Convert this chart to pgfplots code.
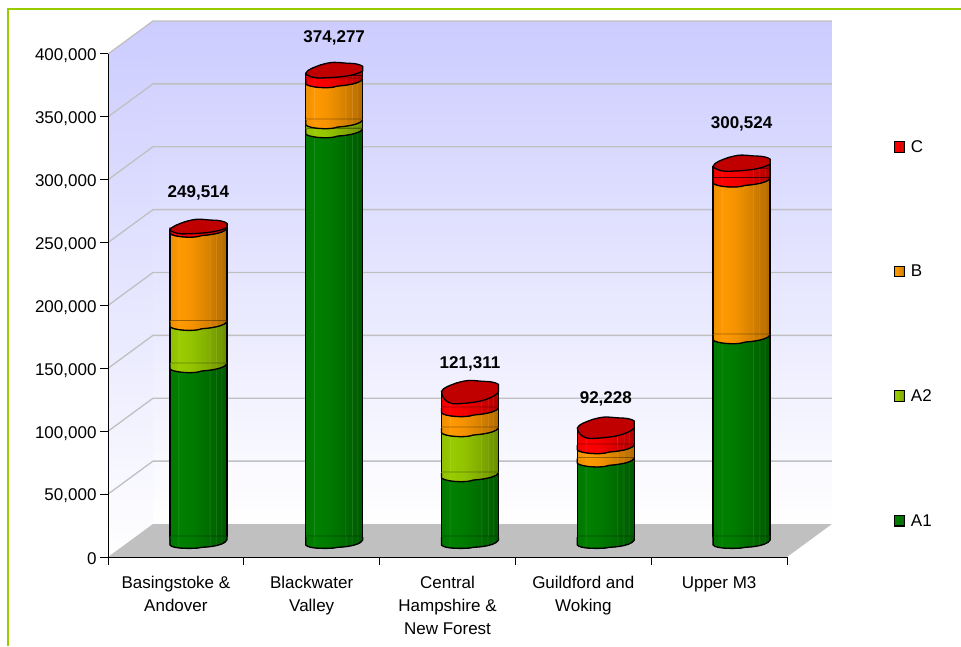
\documentclass[border=0pt]{standalone}
\usepackage{fontspec}
\setmainfont{Liberation Sans}
\usepackage{pgfplots}
\pgfplotsset{compat=1.18}
\definecolor{cAa}{HTML}{008000}
\definecolor{cAb}{HTML}{99CC00}
\definecolor{cB}{HTML}{FF9900}
\definecolor{cC}{HTML}{FF0000}
\definecolor{capred}{HTML}{C00000}
\definecolor{wall}{HTML}{CCCCFF}
\definecolor{gridg}{HTML}{C0C0C0}
\definecolor{frameg}{HTML}{99CC00}
% stepped cylinder shading
\newcommand\declcyl[2]{%
\pgfdeclarehorizontalshading{#1}{100bp}{%
color(0bp)=(#2!94!black);color(25bp)=(#2!94!black);
color(31.8bp)=(#2!98!black);color(32.4bp)=(#2!88!white);color(33bp)=(#2);
color(44bp)=(#2!96!black);color(52bp)=(#2!90!black);
color(59.2bp)=(#2!84!black);color(59.8bp)=(#2!86!white!88!black);color(60.4bp)=(#2!82!black);
color(65bp)=(#2!79!black);color(65.6bp)=(#2!86!white!82!black);color(66.2bp)=(#2!77!black);
color(69.6bp)=(#2!75!black);color(70.2bp)=(#2!86!white!76!black);color(70.8bp)=(#2!73!black);
color(75bp)=(#2!68!black);color(100bp)=(#2!68!black)}}
\declcyl{shAa}{cAa}
\declcyl{shAb}{cAb}
\declcyl{shB}{cB}
\declcyl{shC}{cC}
% lower, visible edge of a segment's base; the value is read at its right end
\newcommand\frontedge{(-28.5pt,0pt) -- (-28.5pt,-5pt)
 .. controls (-27pt,-6.5pt) and (-22pt,-8pt) .. (-14pt,-8.5pt)
 .. controls (-8pt,-9pt) and (-3pt,-8.5pt) .. (0pt,-8pt)
 .. controls (3pt,-6.5pt) and (8pt,-7pt) .. (13pt,-6pt)
 .. controls (20pt,-5pt) and (27pt,-3pt) .. (28.5pt,0pt)}
\newcommand\baseedge{(-28.5pt,0pt) -- (-28.5pt,-8pt)
 .. controls (-27pt,-10pt) and (-22pt,-11pt) .. (-14pt,-11.3pt)
 .. controls (-8pt,-11.5pt) and (-3pt,-11.3pt) .. (0pt,-11pt)
 .. controls (3pt,-10pt) and (8pt,-10.3pt) .. (13pt,-9.5pt)
 .. controls (20pt,-8.5pt) and (27pt,-6.5pt) .. (28.5pt,-3pt) -- (28.5pt,0pt)}
\newcommand\declseg[2]{%
\pgfdeclareplotmark{#1}{%
 \shade[shading=#2] \frontedge -- (28.5pt,1pt) -- (-28.5pt,1pt) -- cycle;
 \draw[black,line width=1.3pt,line join=round] \frontedge;}}
\declseg{mAb}{shAb}
\declseg{mB}{shB}
\declseg{mC}{shC}
\pgfdeclareplotmark{mbase}{%
 \fill[gridg] (-29.5pt,-8.5pt) rectangle (30pt,-2pt);
 \shade[shading=shAa] \baseedge -- (28.5pt,1pt) -- (-28.5pt,1pt) -- cycle;
 \draw[black,line width=1.3pt,line join=round] \baseedge;}
% slanted upper end of the cylinder, under the cap
\newcommand\decltop[2]{%
\pgfdeclareplotmark{#1}{%
 \shade[shading=shC] (-28.5pt,-7pt) -- (28.5pt,0pt) -- (28.5pt,-#2pt) -- (-28.5pt,-#2pt) -- cycle;
 \draw[black,line width=1.3pt] (-28.5pt,-9pt) -- (-28.5pt,-7pt) (28.5pt,-9pt) -- (28.5pt,0pt);}}
\decltop{mtop}{9}
\decltop{mtopthin}{5}
\newcommand\declcap[2]{%
\pgfdeclareplotmark{#1}{%
 \draw[black,fill=capred,line width=1.3pt,line join=round]
 (-28.5pt,-7pt) .. controls (-27pt,-3pt) and (-20pt,-1pt) .. (-13.5pt,1.5pt)
 .. controls (-8pt,3pt) and (-4pt,4pt) .. (0pt,4pt)
 .. controls (6pt,4pt) and (11pt,3pt) .. (16pt,3pt)
 .. controls (20pt,3pt) and (26pt,2pt) .. (28.5pt,0pt)
 -- (28.5pt,{-7.7pt*#2})
 .. controls (26pt,{-11pt*#2}) and (18pt,{-15pt*#2}) .. (10pt,{-16.7pt*#2})
 .. controls (6pt,{-17.5pt*#2}) and (3pt,{-18pt*#2}) .. (0pt,{-18.3pt*#2})
 .. controls (-6pt,{-19pt*#2}) and (-12pt,{-19.5pt*#2}) .. (-17pt,{-19.3pt*#2})
 .. controls (-22pt,{-19pt*#2}) and (-28.5pt,{-14pt*#2}) .. (-28.5pt,-7pt) -- cycle;}}
\declcap{capa}{0.55}
\declcap{capb}{0.6}
\declcap{capc}{1}
\declcap{capd}{0.9}
\declcap{cape}{0.63}
\pgfplotsset{body/.style={ybar,bar width=57pt,bar shift=0pt,draw=none,shading=#1},
 key/.style={legend image code/.code={\draw[black,fill=#1,line width=1.1pt] (0pt,-5pt) rectangle (10.5pt,5.5pt);}},
 keyC/.style={legend image code/.code={\draw[yshift=8pt,black,fill=#1,line width=1.1pt] (0pt,-5pt) rectangle (10.5pt,5.5pt);}}}
% one stack level of one cylinder, cumulative height
\newcommand\lvl[3]{\addplot[body=#1,forget plot] coordinates {(#2,#3)};}
\newcommand\lvlC[2]{\addplot[body=shC,yshift=-8pt,forget plot] coordinates {(#1,#2)};}
\begin{document}
\begin{tikzpicture}
\path[use as bounding box] (0pt,0pt) rectangle (961pt,646pt);
\draw[frameg,line width=1.7pt] (8pt,0pt) -- (8pt,637pt) -- (961pt,637pt);
% axis with walls, floor, grid, ticks
\begin{axis}[
 at={(108pt,89pt)},anchor=south west,
 scale only axis,width=679pt,height=503pt,
 xmin=0,xmax=5,ymin=0,ymax=400000,
 clip=false,axis on top,
 axis lines=left,axis line style={-,black,line width=1pt},
 tick style={black,line width=1pt},
 major tick length=8pt,tick align=outside,
 xtick={0,1,2,3,4,5},xticklabels={},
 extra x ticks={0.5,1.5,2.5,3.5,4.5},
 extra x tick labels={Basingstoke \&\\Andover,Blackwater\\Valley,Central\\Hampshire \&\\New Forest,Guildford and\\Woking,Upper M3},
 extra x tick style={major tick length=0pt,tick label style={yshift=-16pt}},
 xticklabel style={align=center,font=\fontsize{17}{23}\selectfont,anchor=north},
 ytick={0,50000,100000,150000,200000,250000,300000,350000,400000},
 scaled y ticks=false,
 yticklabel style={yshift=-2pt,font=\fontsize{17}{20}\selectfont,/pgf/number format/.cd,fixed,precision=0,1000 sep={,},assume math mode=true},
]
\addplot[draw=none,top color=wall,bottom color=white,forget plot] coordinates {(0,0)(0,400000)(0.331,426240)(0.331,26240)(0,0)};
\addplot[draw=none,top color=wall,bottom color=white,forget plot] coordinates {(0.331,26240)(0.331,426240)(5.331,426240)(5.331,26240)(0.331,26240)};
\addplot[draw=none,fill=gridg,forget plot] coordinates {(0,0)(5,0)(5.331,26240)(0.331,26240)(0,0)};
\addplot[gridg,line width=1.3pt,unbounded coords=jump,forget plot] coordinates {
 (0,50000)(0.331,76240)(5.331,76240) (0,nan)
 (0,100000)(0.331,126240)(5.331,126240) (0,nan)
 (0,150000)(0.331,176240)(5.331,176240) (0,nan)
 (0,200000)(0.331,226240)(5.331,226240) (0,nan)
 (0,250000)(0.331,276240)(5.331,276240) (0,nan)
 (0,300000)(0.331,326240)(5.331,326240) (0,nan)
 (0,350000)(0.331,376240)(5.331,376240) (0,nan)
 (0,400000)(0.331,426240)(5.331,426240)};
\end{axis}
% axis with the cylinders, half a depth step back
\begin{axis}[
 at={(130.5pt,109pt)},anchor=south west,
 scale only axis,width=679pt,height=503pt,
 xmin=0,xmax=5,ymin=0,ymax=400000,
 clip=false,hide axis,
 legend style={draw=none,fill=none,at={(1.1536,0.4035)},anchor=center,
  font=\fontsize{17}{20}\selectfont,row sep=107.3pt},
 legend cell align=left,
]
% legend keys come from the first cylinder's levels
\addplot[body=shC,yshift=-8pt,keyC=cC] coordinates {(0.5,249514)}; \addlegendentry{\hspace{3.5pt}C}
\addplot[body=shB,key=cB] coordinates {(0.5,245300)}; \addlegendentry{\hspace{3.5pt}B}
\addplot[body=shAb,key=cAb] coordinates {(0.5,171200)}; \addlegendentry{\hspace{3.5pt}A2}
\addplot[body=shAa,key=cAa] coordinates {(0.5,137600)}; \addlegendentry{\hspace{3.5pt}A1}
\lvlC{1.5}{374277}\lvl{shB}{1.5}{364200}\lvl{shAb}{1.5}{331600}\lvl{shAa}{1.5}{324400}
\lvlC{2.5}{121311}\lvl{shB}{2.5}{102600}\lvl{shAb}{2.5}{86700}\lvl{shAa}{2.5}{50900}
\lvlC{3.5}{92228}\lvl{shB}{3.5}{73160}\lvl{shAa}{3.5}{62600}
\lvlC{4.5}{300524}\lvl{shB}{4.5}{285200}\lvl{shAa}{4.5}{160600}
\addplot[only marks,mark=mbase,forget plot] coordinates {(0.5,0)(1.5,0)(2.5,0)(3.5,0)(4.5,0)};
\addplot[only marks,mark=mtopthin,forget plot] coordinates {(0.5,249514)};
\addplot[only marks,mark=mtop,forget plot] coordinates {(1.5,374277)(2.5,121311)(3.5,92228)(4.5,300524)};
\addplot[only marks,mark=mAb,forget plot] coordinates {(0.5,137600)(1.5,324400)(2.5,50900)};
\addplot[only marks,mark=mB,forget plot] coordinates {(0.5,171200)(1.5,331600)(2.5,86700)(3.5,62600)(4.5,160600)};
\addplot[only marks,mark=mC,forget plot] coordinates {(0.5,245300)(1.5,364200)(2.5,102600)(3.5,73160)(4.5,285200)};
% sides of the cylinders
\addplot[black,line width=1.3pt,unbounded coords=jump,forget plot] coordinates {
 (0.29,0)(0.29,243154) (0,nan) (0.71,0)(0.71,243154) (0,nan)
 (1.29,0)(1.29,367917) (0,nan) (1.71,0)(1.71,367917) (0,nan)
 (2.29,0)(2.29,114951) (0,nan) (2.71,0)(2.71,114951) (0,nan)
 (3.29,0)(3.29,85868) (0,nan) (3.71,0)(3.71,85868) (0,nan)
 (4.29,0)(4.29,294164) (0,nan) (4.71,0)(4.71,294164)};
\addplot[only marks,mark=capa,forget plot] coordinates {(0.5,249514)};
\addplot[only marks,mark=capb,forget plot] coordinates {(1.5,374277)};
\addplot[only marks,mark=capc,forget plot] coordinates {(2.5,121311)};
\addplot[only marks,mark=capd,forget plot] coordinates {(3.5,92228)};
\addplot[only marks,mark=cape,forget plot] coordinates {(4.5,300524)};
% totals
\addplot[draw=none,mark=none,forget plot,
 point meta=explicit symbolic,
 visualization depends on={\thisrow{off} \as \off},
 nodes near coords,
 nodes near coords style={anchor=center,yshift=\off pt,font=\fontsize{17}{20}\selectfont\bfseries,black},
] table[x=x,y=y,meta=lab] {
x y off lab
0.5 249514 30 249,514
1.5 374277 28.5 374,277
2.5 121311 20.5 121,311
3.5 92228 22 92,228
4.5 300524 35 300,524
};
\end{axis}
\end{tikzpicture}
\end{document}
